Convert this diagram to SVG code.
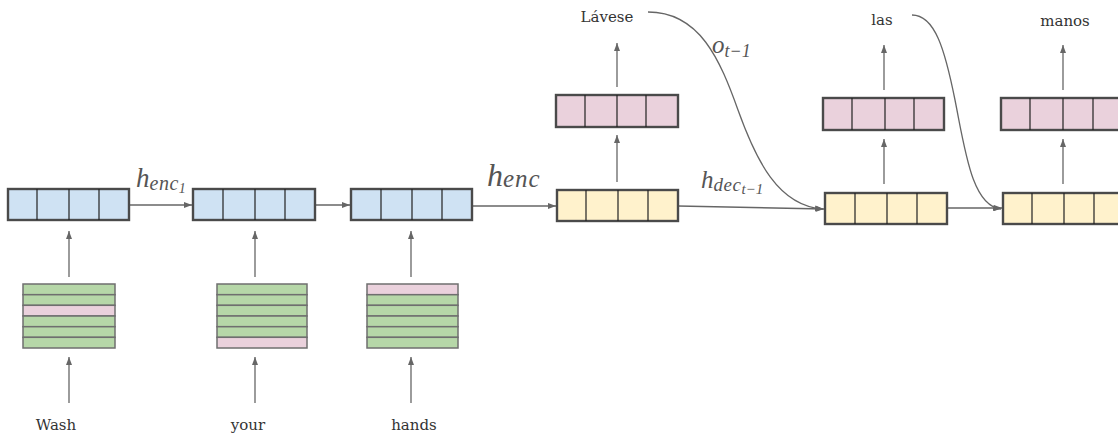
<svg xmlns="http://www.w3.org/2000/svg" width="1118" height="434" viewBox="0 0 1118 434">
<style>
.box{stroke:#4a4a4a;stroke-width:2.4}
.div{stroke:#222;stroke-width:1.2;fill:none}
.blue{fill:#cfe2f3}
.yel{fill:#fff2cc}
.pink{fill:#ead1dc}
.green{fill:#b6d7a8}
.row{stroke:#6f6f6f;stroke-width:1.5}
.arr{stroke:#666;stroke-width:1.3;fill:none;marker-end:url(#ah)}
.cur{stroke:#666;stroke-width:1.3;fill:none;marker-end:url(#ah)}
.w{font-family:"DejaVu Serif","Liberation Serif",serif;font-size:15px;fill:#333;text-anchor:middle}
.m{font-family:"Liberation Serif",serif;font-style:italic;fill:#555}
</style>
<defs>
<marker id="ah" markerUnits="userSpaceOnUse" markerWidth="9" markerHeight="7" refX="8" refY="3.5" orient="auto">
<path d="M0,0.5 L8,3.5 L0,6.5 z" fill="#666"/>
</marker>
</defs>

<g id="connectors">
<line class="arr" x1="69" y1="277" x2="69" y2="231"/>
<line class="arr" x1="255" y1="277" x2="255" y2="231"/>
<line class="arr" x1="411" y1="277" x2="411" y2="231"/>
<line class="arr" x1="69" y1="403" x2="69" y2="357"/>
<line class="arr" x1="255" y1="403" x2="255" y2="357"/>
<line class="arr" x1="411" y1="403" x2="411" y2="357"/>
<line class="arr" x1="129" y1="205" x2="192" y2="205"/>
<line class="arr" x1="315" y1="205" x2="350" y2="205"/>
<line class="arr" x1="472" y1="206" x2="556" y2="206"/>
<path class="arr" d="M678,206 L824,209"/>
<line class="arr" x1="947" y1="208" x2="1002" y2="208"/>
<line class="arr" x1="617" y1="182" x2="617" y2="135"/>
<line class="arr" x1="617" y1="87" x2="617" y2="43"/>
<line class="arr" x1="884" y1="184" x2="884" y2="139"/>
<line class="arr" x1="884" y1="90" x2="884" y2="45"/>
<line class="arr" x1="1063" y1="184" x2="1063" y2="139"/>
<line class="arr" x1="1063" y1="90" x2="1063" y2="45"/>
<path class="cur" d="M648,12 C700,12 720,60 738,110 C756,160 778,206 823,209"/>
<path class="cur" d="M912,15 C935,15 945,50 955,100 C965,150 972,206 1001,209"/>
</g>

<g id="enc1"><rect class="box blue" x="8" y="189" width="121" height="31"/><path class="div" d="M37,189V220M69,189V220M99,189V220"/></g>
<g id="enc2"><rect class="box blue" x="193" y="189" width="122" height="31"/><path class="div" d="M223,189V220M255,189V220M285,189V220"/></g>
<g id="enc3"><rect class="box blue" x="351" y="189" width="121" height="31"/><path class="div" d="M381,189V220M412,189V220M442,189V220"/></g>

<g id="dec1"><rect class="box yel" x="557" y="190" width="121" height="31"/><path class="div" d="M586,190V221M618,190V221M648,190V221"/></g>
<g id="dec2"><rect class="box yel" x="825" y="193" width="122" height="31"/><path class="div" d="M855,193V224M887,193V224M917,193V224"/></g>
<g id="dec3"><rect class="box yel" x="1003" y="193" width="122" height="31"/><path class="div" d="M1032,193V224M1064,193V224M1094,193V224"/></g>

<g id="out1"><rect class="box pink" x="556" y="95" width="122" height="32"/><path class="div" d="M585,95V127M617,95V127M646,95V127"/></g>
<g id="out2"><rect class="box pink" x="823" y="98" width="121" height="32"/><path class="div" d="M852,98V130M885,98V130M914,98V130"/></g>
<g id="out3"><rect class="box pink" x="1001" y="98" width="122" height="32"/><path class="div" d="M1030,98V130M1063,98V130M1093,98V130"/></g>

<g id="emb1">
<rect class="row green" x="23" y="284" width="92" height="10.7"/>
<rect class="row green" x="23" y="294.7" width="92" height="10.7"/>
<rect class="row pink" x="23" y="305.3" width="92" height="10.7"/>
<rect class="row green" x="23" y="316" width="92" height="10.7"/>
<rect class="row green" x="23" y="326.7" width="92" height="10.7"/>
<rect class="row green" x="23" y="337.3" width="92" height="10.7"/>
</g>
<g id="emb2">
<rect class="row green" x="217" y="284" width="90" height="10.7"/>
<rect class="row green" x="217" y="294.7" width="90" height="10.7"/>
<rect class="row green" x="217" y="305.3" width="90" height="10.7"/>
<rect class="row green" x="217" y="316" width="90" height="10.7"/>
<rect class="row green" x="217" y="326.7" width="90" height="10.7"/>
<rect class="row pink" x="217" y="337.3" width="90" height="10.7"/>
</g>
<g id="emb3">
<rect class="row pink" x="367" y="284" width="91" height="10.7"/>
<rect class="row green" x="367" y="294.7" width="91" height="10.7"/>
<rect class="row green" x="367" y="305.3" width="91" height="10.7"/>
<rect class="row green" x="367" y="316" width="91" height="10.7"/>
<rect class="row green" x="367" y="326.7" width="91" height="10.7"/>
<rect class="row green" x="367" y="337.3" width="91" height="10.7"/>
</g>

<g id="labels">
<text class="w" x="56" y="430">Wash</text>
<text class="w" x="248" y="430">your</text>
<text class="w" x="414" y="430">hands</text>
<text class="w" x="607" y="22">Lávese</text>
<text class="w" x="882" y="25">las</text>
<text class="w" x="1065" y="26">manos</text>
<text class="m" x="136" y="187" font-size="27">h<tspan font-size="20" dy="3" letter-spacing="0.5">enc</tspan><tspan font-size="14" dy="3">1</tspan></text>
<text class="m" x="487" y="186" font-size="32">h<tspan font-size="25" dy="1" letter-spacing="1">enc</tspan></text>
<text class="m" x="701" y="188" font-size="25">h<tspan font-size="19" dy="3" letter-spacing="0.5">dec</tspan><tspan font-size="15" dy="3">t−1</tspan></text>
<text class="m" x="712" y="53" font-size="25">o<tspan font-size="18" dy="4">t−1</tspan></text>
</g>
</svg>
